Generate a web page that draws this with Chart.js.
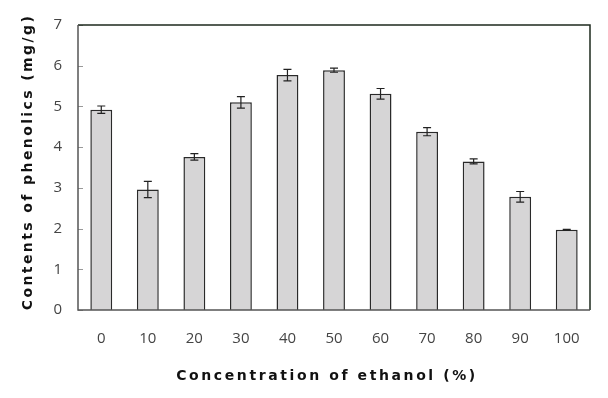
<!DOCTYPE html>
<html>
<head>
<meta charset="utf-8">
<script src="https://cdn.jsdelivr.net/npm/chart.js@4/dist/chart.umd.min.js"></script>
<style>
  html, body { margin: 0; padding: 0; background: #fff; }
  #wrap { width: 608px; height: 398px; }
</style>
</head>
<body>
<div id="wrap"><canvas id="phenolChart" width="608" height="398"></canvas></div>
<script>
// Phenolic content vs ethanol concentration

const categories = ["0", "10", "20", "30", "40", "50", "60", "70", "80", "90", "100"];
const phenolics = [4.92, 2.96, 3.76, 5.1, 5.77, 5.89, 5.31, 4.38, 3.65, 2.78, 1.97];
const errors = [0.09, 0.2, 0.08, 0.14, 0.14, 0.05, 0.13, 0.1, 0.06, 0.13, 0.01];
const yTicks = [0, 1, 2, 3, 4, 5, 6, 7];

const xTitle = "Concentration of ethanol (%)";
const yTitle = "Contents of phenolics (mg/g)";

// error bars, inner tick marks, frame and spaced axis titles
const extrasPlugin = {
  id: "extras",
  afterDatasetsDraw(chart) {
    const ctx = chart.ctx;
    const x = chart.scales.x;
    const y = chart.scales.y;
    const area = chart.chartArea;

    ctx.save();
    // inner y tick marks
    ctx.strokeStyle = "#999";
    ctx.lineWidth = 1;
    yTicks.forEach((v) => {
      const py = Math.round(y.getPixelForValue(v)) + 0.5;
      ctx.beginPath();
      ctx.moveTo(area.left, py);
      ctx.lineTo(area.left + 5, py);
      ctx.stroke();
    });

    // error bars
    ctx.strokeStyle = "#222";
    ctx.lineWidth = 1.2;
    phenolics.forEach((v, i) => {
      const px = x.getPixelForValue(i);
      const top = y.getPixelForValue(v + errors[i]);
      const bot = y.getPixelForValue(v - errors[i]);
      ctx.beginPath();
      ctx.moveTo(px, top);
      ctx.lineTo(px, bot);
      ctx.moveTo(px - 4, top);
      ctx.lineTo(px + 4, top);
      ctx.moveTo(px - 4, bot);
      ctx.lineTo(px + 4, bot);
      ctx.stroke();
    });

    // frame
    ctx.lineWidth = 1.5;
    ctx.strokeStyle = "#1e2a1e";
    ctx.beginPath();
    ctx.moveTo(area.left, area.top);
    ctx.lineTo(area.right, area.top);
    ctx.lineTo(area.right, area.bottom);
    ctx.stroke();
    ctx.strokeStyle = "#555";
    ctx.beginPath();
    ctx.moveTo(area.left, area.top);
    ctx.lineTo(area.left, area.bottom);
    ctx.lineTo(area.right, area.bottom);
    ctx.stroke();

    // axis titles
    ctx.fillStyle = "#111";
    ctx.font = "bold 14px 'DejaVu Sans', sans-serif";
    ctx.letterSpacing = "2.6px";
    ctx.textAlign = "center";
    ctx.textBaseline = "middle";
    ctx.fillText(xTitle, 327, 376);

    ctx.letterSpacing = "2.4px";
    ctx.translate(28, 162);
    ctx.rotate(-Math.PI / 2);
    ctx.fillText(yTitle, 0, 0);
    ctx.restore();
  },
};

const ctx = document.getElementById("phenolChart").getContext("2d");

new Chart(ctx, {
  type: "bar",
  data: {
    labels: categories,
    datasets: [
      {
        data: phenolics,
        backgroundColor: "#d6d5d6",
        borderColor: "#2a2a2a",
        borderWidth: 1.5,
        barPercentage: 0.47,
        categoryPercentage: 1,
      },
    ],
  },
  options: {
    responsive: false,
    animation: false,
    layout: {
      padding: { left: 38, right: 18, top: 14, bottom: 48 },
    },
    plugins: {
      legend: { display: false },
      tooltip: { enabled: false },
    },
    scales: {
      x: {
        grid: { display: false, drawTicks: false },
        border: { display: false },
        ticks: {
          color: "#444",
          padding: 20,
          font: { family: "'Open Sans', sans-serif", size: 15 },
        },
        afterFit(scale) {
          scale.height = 40;
        },
      },
      y: {
        min: 0,
        max: 7,
        grid: { display: false, drawTicks: false },
        border: { display: false },
        ticks: {
          stepSize: 1,
          color: "#444",
          padding: 16,
          font: { family: "'Open Sans', sans-serif", size: 15 },
        },
        afterFit(scale) {
          scale.width = 40;
        },
      },
    },
  },
  plugins: [extrasPlugin],
});
</script>
</body>
</html>
